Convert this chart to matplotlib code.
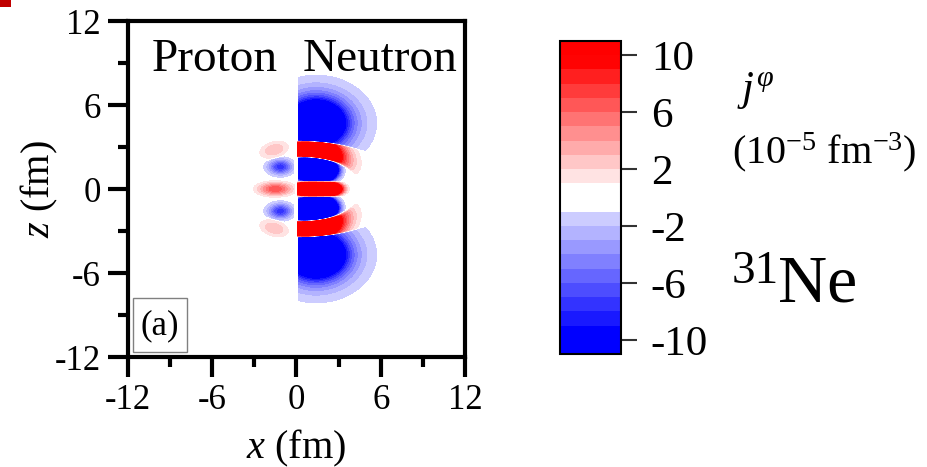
import numpy as np
import matplotlib
matplotlib.use("Agg")
import matplotlib.pyplot as plt
from matplotlib.patches import Rectangle

plt.rcParams['font.family'] = ['Liberation Serif', 'DejaVu Serif']
plt.rcParams['mathtext.fontset'] = 'custom'
plt.rcParams['mathtext.rm'] = 'Liberation Serif'
plt.rcParams['mathtext.it'] = 'Liberation Serif:italic'
plt.rcParams['axes.unicode_minus'] = False

# ---------------- data ----------------
x_ticks = [-12, -6, 0, 6, 12]
z_ticks = [-12, -6, 0, 6, 12]
minor_ticks = [-9, -3, 3, 9]
cbar_ticks = [-10, -6, -2, 2, 6, 10]
levels = list(range(-11, 12))

# neutron current lobes (x > 0)
neutron_x0 = [1.4, 1.5, 1.3, 1.5, 1.3, 1.5, 1.4]
neutron_z0 = [4.7, 2.62, 1.45, 0.0, -1.45, -2.62, -4.7]
neutron_amp = [-80, 25, -30, 30, -30, 25, -80]
neutron_sx = [0.5, 1.26, 1.4, 1.4, 1.4, 1.26, 0.5]
neutron_sz = [0.4, 0.73, 0.9, 0.5, 0.9, 0.73, 0.4]
neutron_tilt = [0, -8, -5, 0, 5, 8, 0]
neutron_bend = [0.0, 0.049, 0.0, 0.0, 0.0, -0.049, 0.0]
neutron_p = [0.5, 1.0, 2.0, 2.0, 2.0, 1.0, 0.5]
neutron_wx = [4.0, 5.0, 2.5, 2.5, 2.5, 5.0, 4.0]
neutron_wz = [0.8, 0.42, 0.9, 0.5, 0.9, 0.42, 0.8]

# proton current lobes (x < 0)
proton_x0 = [-1.6, -1.15, -1.5, -1.15, -1.6]
proton_z0 = [2.8, 1.58, 0.0, -1.58, -2.8]
proton_amp = [3.0, -8.0, 7.0, -8.0, 3.0]
proton_sx = [0.7, 0.62, 0.8, 0.62, 0.7]
proton_sz = [0.38, 0.4, 0.3, 0.4, 0.38]
proton_tilt = [15, 0, 0, 0, -15]
proton_bend = [0.0, 0.0, 0.0, 0.0, 0.0]
proton_p = [1.0, 1.0, 1.0, 1.0, 1.0]
proton_wx = [0.7, 0.62, 0.8, 0.62, 0.7]
proton_wz = [0.4, 0.5, 0.35, 0.5, 0.4]


def lobes_field(X, Z, x0s, z0s, amps, sxs, szs, tilts, bends, ps, wxs, wzs,
                n=8.0, m=1.5):
    vals, logw = [], []
    for x0, z0, a, sx, sz, t, b, p, wx, wz in zip(x0s, z0s, amps, sxs, szs,
                                                  tilts, bends, ps, wxs, wzs):
        t = np.deg2rad(t)
        dx, dz = X - x0, Z - z0
        u = dx * np.cos(t) + dz * np.sin(t)
        v = -dx * np.sin(t) + dz * np.cos(t) + b * u ** 2
        q = (u / sx) ** 2 + (v / sz) ** 2
        qp = (u / wx) ** 2 + (v / wz) ** 2
        val = a * np.exp(-0.5 * q ** p)
        vals.append(val)
        logw.append(-0.5 * n * qp + m * np.log(np.abs(val) + 1e-12))
    vals = np.array(vals)
    logw = np.array(logw)
    logw -= logw.max(0)
    w = np.exp(logw)
    return (w * vals).sum(0) / w.sum(0)


xs = np.linspace(-12, 12, 1201)
zs = np.linspace(-12, 12, 1201)
X, Z = np.meshgrid(xs, zs)
jn = lobes_field(X, Z, neutron_x0, neutron_z0, neutron_amp, neutron_sx,
                 neutron_sz, neutron_tilt, neutron_bend, neutron_p,
                 neutron_wx, neutron_wz)
jp = lobes_field(X, Z, proton_x0, proton_z0, proton_amp, proton_sx,
                 proton_sz, proton_tilt, proton_bend, proton_p,
                 proton_wx, proton_wz)
J = np.where(X > 0.07, jn, np.where(X < -0.14, jp, 0.0))
J = np.clip(J, -10.999, 10.999)

# colours of the bands
blue = []
for k in range(10, 0, -1):
    L = max(0.0, 0.8 - 0.1 * (k - 1))
    blue.append((L, L, 1.0))
red = []
for k in range(1, 11):
    L = max(0.0, 0.89 - 0.11 * (k - 1))
    red.append((1.0, L, L))
colors = blue + [(1, 1, 1), (1, 1, 1)] + red

W, H = 928, 467
fig = plt.figure(figsize=(W / 100, H / 100), dpi=100)


def fx(px):
    return px / W


def fy(py):
    return 1 - py / H


ax = fig.add_axes([fx(128), fy(357), fx(465) - fx(128), fy(21) - fy(357)])
cs = ax.contourf(X, Z, J, levels=levels, colors=colors)
ax.set_xlim(-12, 12)
ax.set_ylim(-12, 12)
ax.set_xticks(x_ticks)
ax.set_yticks(z_ticks)
ax.set_xticks(minor_ticks, minor=True)
ax.set_yticks(minor_ticks, minor=True)
ax.tick_params(which='major', direction='out', length=14.5, width=3,
               labelsize=25, pad=5)
ax.tick_params(which='minor', direction='out', length=7.5, width=3)
for s in ax.spines.values():
    s.set_linewidth(3)
ax.set_xlabel('$x$ (fm)', fontsize=29)
ax.set_ylabel('$z$ (fm)', fontsize=29)
ax.xaxis.label.set_va('baseline')
ax.yaxis.label.set_va('baseline')
ax.xaxis.set_label_coords(0.5, (357 - 458) / 336)
ax.yaxis.set_label_coords((49 - 128) / 337, 0.5)

ax.add_patch(Rectangle((0.015, 0.015), 0.16, 0.161, transform=ax.transAxes,
                       fill=False, edgecolor='#808080', linewidth=1.0, zorder=5))
ax.text(0.095, 0.092, '(a)', transform=ax.transAxes, fontsize=25,
        ha='center', va='center', zorder=6)

fig.text(fx(152), fy(71), 'Proton', fontsize=34, ha='left', va='baseline')
fig.text(fx(303), fy(71), 'Neutron', fontsize=34, ha='left', va='baseline')

cax = fig.add_axes([fx(560), fy(354), fx(621) - fx(560), fy(41) - fy(354)])
cb = fig.colorbar(cs, cax=cax, ticks=cbar_ticks)
cb.outline.set_linewidth(1.5)
cax.tick_params(length=11.5, width=1.5, labelsize=31, pad=10, color='#333333')

fig.text(fx(737), fy(100), r'$j^{\varphi}$', fontsize=31, ha='left', va='baseline')
fig.text(fx(732), fy(163), r'(10$^{-5}$ fm$^{-3}$)', fontsize=29,
         ha='left', va='baseline')
fig.text(fx(732), fy(283), '31', fontsize=34, ha='left', va='baseline')
fig.text(fx(778), fy(302), 'Ne', fontsize=49, ha='left', va='baseline')

fig.patches.append(Rectangle((0, fy(7)), fx(11), 7 / H, transform=fig.transFigure,
                             facecolor='#c00000', edgecolor='none'))

fig.savefig('out.png', dpi=100)
